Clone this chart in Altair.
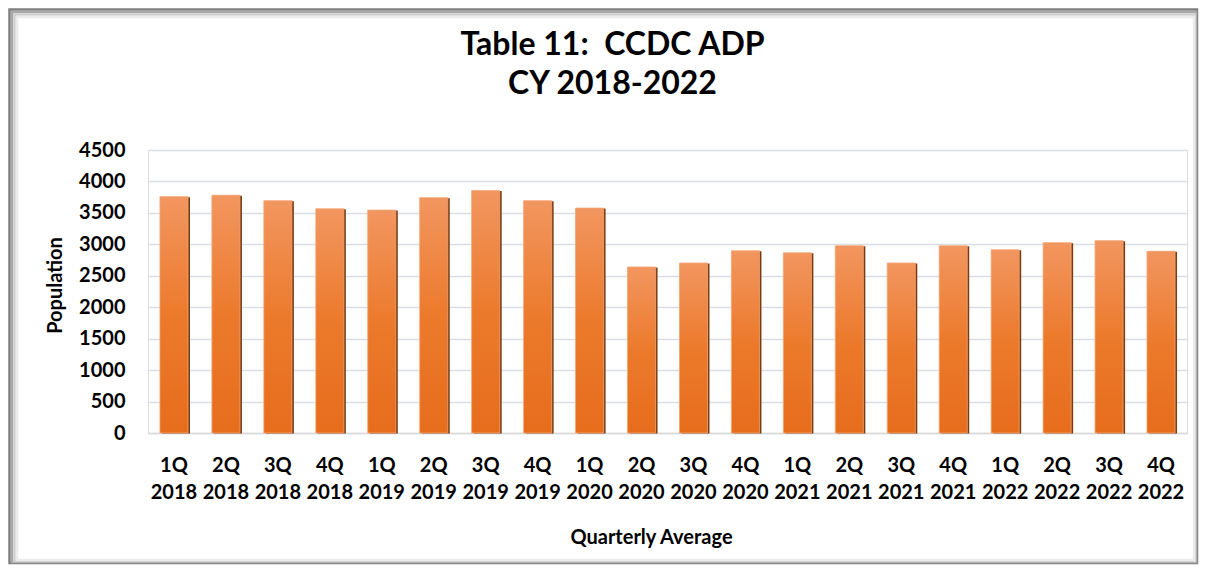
import altair as alt
import pandas as pd

quarters = ["1Q", "2Q", "3Q", "4Q", "1Q", "2Q", "3Q", "4Q", "1Q", "2Q",
            "3Q", "4Q", "1Q", "2Q", "3Q", "4Q", "1Q", "2Q", "3Q", "4Q"]
years = ["2018", "2018", "2018", "2018", "2019", "2019", "2019", "2019", "2020", "2020",
         "2020", "2020", "2021", "2021", "2021", "2021", "2022", "2022", "2022", "2022"]
population = [3758, 3780, 3694, 3565, 3544, 3742, 3855, 3694, 3576, 2640,
              2703, 2897, 2865, 2977, 2703, 2977, 2913, 3026, 3058, 2890]

labels = [f"{q} {y}" for q, y in zip(quarters, years)]
df = pd.DataFrame({"label": labels, "population": population})

FONT = "Lato"
W, H = 1039, 283

x_enc = alt.X(
    "label:N", sort=None,
    scale=alt.Scale(paddingInner=0.46, paddingOuter=0.23),
    axis=alt.Axis(
        title="Quarterly Average", labelAngle=0,
        labelExpr="split(datum.label, ' ')",
        labelFontSize=20, labelFont=FONT, labelFontWeight="bold", labelColor="#000000",
        labelLineHeight=27, labelPadding=22, labelBaseline="top",
        ticks=False, domain=True, domainColor="#d9d9d9", domainWidth=1.5,
        titleFontSize=20, titleFont=FONT, titleFontWeight="bold", titleColor="#000000",
        titlePadding=25, titleX=503, grid=False,
    ),
)
y_enc = alt.Y(
    "population:Q",
    scale=alt.Scale(domain=[0, 4500]),
    axis=alt.Axis(
        title="Population", values=list(range(0, 4501, 500)), format="d",
        labelFontSize=20, labelFont=FONT, labelFontWeight="bold", labelColor="#000000",
        labelPadding=23, ticks=False, domain=False,
        grid=True, gridColor="#dadee4", gridWidth=1.5,
        titleFontSize=20, titleFont=FONT, titleFontWeight="bold", titleColor="#000000",
        titleAngle=-90, titleX=-93, titleY=135, titleBaseline="middle", titleAlign="center",
    ),
)

shadow = alt.Chart(df).mark_bar(color="#7a3d12", xOffset=2, yOffset=0.5).encode(x=x_enc, y=y_enc)

bars = alt.Chart(df).mark_bar(
    color=alt.Gradient(
        gradient="linear", x1=0, y1=0, x2=0, y2=1,
        stops=[alt.GradientStop(color="#f29660", offset=0),
               alt.GradientStop(color="#ec7a2c", offset=0.5),
               alt.GradientStop(color="#e66d1c", offset=1)],
    ),
    stroke="#f4a574", strokeWidth=0.8,
).encode(x=x_enc, y=y_enc)

frame_data = alt.Data(values=[{"k": 1}])
frames = []
for inset, col, sw in [(0, "#7f7f7f", 2.5), (2.5, "#a9a9a9", 2.5), (5, "#cfcfcf", 2.5), (7.5, "#ececec", 2.5)]:
    frames.append(
        alt.Chart(frame_data).mark_rect(fill=None, stroke=col, strokeWidth=sw, clip=False).encode(
            x=alt.value(-138.5 + inset), x2=alt.value(1049 - inset * 0.4),
            y=alt.value(-140.5 + inset), y2=alt.value(413 - inset * 0.4),
        )
    )

chart = alt.layer(*frames, shadow, bars).properties(
    width=W, height=H,
    title=alt.TitleParams(
        text=["Table 11:\u00a0 CCDC ADP", "CY 2018-2022"],
        fontSize=32, font=FONT, fontWeight="bold", color="#000000",
        anchor="middle", dx=-55, offset=40, dy=133, lineHeight=39,
    ),
    autosize=alt.AutoSizeParams(type="none"),
    padding={"left": 140, "top": 142, "right": 12, "bottom": 132},
).configure_view(stroke=None).configure(background="#ffffff")

chart.save("out.html", embed_options={"renderer": "svg", "actions": False})
